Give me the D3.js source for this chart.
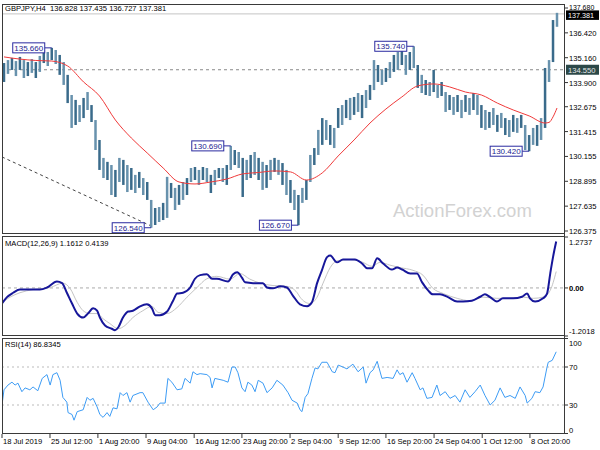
<!DOCTYPE html>
<html><head><meta charset="utf-8">
<script src="https://cdn.jsdelivr.net/npm/d3@7"></script>
<style>
body{margin:0;background:#fff}
text{font-family:"Liberation Sans",Arial,sans-serif}
</style>
</head><body>
<svg id="c" width="600" height="450"></svg>
<script>
// ---------- DATA ----------
const headerText = "GBPJPY,H4  136.828 137.435 136.727 137.381";
const macdTitle = "MACD(12,26,9) 1.1612 0.4139";
const rsiTitle = "RSI(14) 86.8345";
const watermark = "ActionForex.com";

const highs = [134.89,135.04,135.15,134.99,135.20,135.04,134.94,135.09,134.94,135.25,
135.55,135.45,135.66,135.55,135.30,134.94,134.29,133.27,133.02,132.76,
133.12,133.42,132.76,132.00,130.99,130.08,129.88,129.72,129.47,130.08,
129.98,129.72,129.57,129.22,129.37,129.06,128.86,127.95,127.54,127.59,
127.80,129.12,128.81,128.56,128.71,128.86,129.06,129.57,129.62,129.47,
129.62,129.57,129.22,129.47,129.57,129.57,129.72,130.69,130.48,130.38,
130.08,129.98,130.23,130.38,130.08,129.88,129.72,129.98,130.08,129.98,
129.82,129.47,128.96,128.46,128.20,128.56,128.96,130.23,130.58,131.50,
132.10,132.00,131.75,131.60,132.61,132.76,133.02,133.12,133.17,133.37,
133.27,133.52,133.78,135.04,134.79,134.54,134.64,134.94,135.30,135.45,
135.70,135.30,135.45,135.74,134.79,134.29,134.03,133.93,134.54,133.78,
133.93,133.42,133.27,133.17,133.27,133.02,133.27,133.12,133.37,133.27,
132.76,132.51,132.41,132.61,132.26,132.36,132.10,132.00,132.26,132.10,
132.26,131.75,131.24,131.60,131.75,132.10,134.64,135.04,137.07,137.435];

const lows = [133.93,134.34,134.54,134.23,134.54,134.13,134.23,134.39,134.13,134.44,
134.89,134.74,135.04,134.84,134.29,133.78,132.86,131.60,131.75,131.90,
132.10,132.51,131.90,130.48,129.47,129.06,128.96,128.20,128.10,128.86,
128.71,128.35,128.46,128.30,128.56,128.20,127.95,126.54,126.68,126.83,
126.93,127.04,128.05,127.44,127.70,127.95,128.20,128.86,128.96,128.71,
128.96,128.86,128.30,128.71,129.06,128.86,128.71,129.47,129.72,129.57,
128.10,128.96,129.06,129.22,128.96,128.46,128.56,128.96,129.37,129.22,
128.71,128.20,127.80,127.44,126.67,127.80,127.95,128.86,129.72,130.23,
130.74,130.99,130.74,130.58,131.60,131.75,132.10,132.00,132.26,132.41,
132.10,132.61,133.02,133.52,133.93,133.78,133.93,134.13,134.44,134.54,
134.79,134.29,134.54,134.64,133.63,133.37,133.27,133.22,133.42,133.12,
133.22,132.41,132.51,132.26,132.41,132.10,132.41,132.26,132.51,132.26,
131.60,131.50,131.60,131.75,131.40,131.60,131.24,131.14,131.40,131.35,
131.60,130.48,130.42,130.74,130.69,130.99,131.60,133.93,134.94,136.727];

// moving average [barIndex, value]
const maLine = [[0,135.20],[4,135.09],[8,135.02],[12,134.99],[16,134.74],[20,133.93],[24,133.22],
[28,132.00],[32,131.09],[36,130.33],[40,129.57],[44,128.86],[48,128.76],[52,128.86],[56,129.01],
[60,129.27],[64,129.34],[68,129.42],[72,129.37],[76,128.96],[80,129.32],[84,130.18],[88,130.99],
[92,131.85],[96,132.56],[100,133.17],[104,133.73],[108,133.83],[112,133.68],[116,133.42],
[120,133.27],[124,132.86],[128,132.51],[132,132.21],[136,131.85],[137,131.88],[138,132.16],[139,132.61]];

const trendLine = [[-0.5,130.13],[37,126.63]];

const calloutIdx = [12,57,37,74,103,132];
const calloutPrice = [135.660,130.690,126.540,126.670,135.740,130.420];

const lastPrice = 137.381;
const levelPrice = 134.550;
const priceTicks = [137.680,136.420,135.160,133.900,132.675,131.415,130.155,128.895,127.635,126.375];

const macdLine = [[-0.5,-0.39],[0.75,-0.23],[2.3,-0.12],[4,-0.04],[5.8,-0.04],[9,-0.04],[10.8,0.01],
[13.3,0.16],[14.6,0.12],[15.8,-0.12],[17.1,-0.39],[18.4,-0.64],[19.9,-0.74],[21.1,-0.64],[22.4,-0.51],
[23.4,-0.57],[24.1,-0.74],[25.4,-0.94],[27.1,-1.02],[27.9,-1.06],[28.7,-0.99],[29.9,-0.74],[31.2,-0.59],
[32.4,-0.57],[34.2,-0.46],[35.9,-0.41],[37.2,-0.51],[38,-0.68],[39.2,-0.68],[41,-0.59],[42.5,-0.32],
[43.5,-0.14],[45,-0.12],[46.8,0.01],[48,0.23],[49.3,0.32],[51,0.34],[52.3,0.23],[53.5,0.23],[56.3,0.16],
[57.6,0.34],[58.6,0.39],[59.8,0.26],[60.6,0.14],[62.6,0.12],[63.9,0.12],[65.1,0.12],[66.1,0.01],
[67.6,-0.01],[69.4,0.04],[71.1,0.01],[72.6,-0.19],[74.4,-0.41],[76.2,-0.46],[77.4,-0.36],[78.7,0.12],
[79.9,0.44],[81.2,0.77],[82,0.81],[83.7,0.64],[85.2,0.71],[88.2,0.71],[90,0.61],[91.3,0.49],[92.5,0.49],
[93.8,0.74],[95.3,0.61],[97.5,0.46],[98.8,0.51],[100.1,0.46],[102.1,0.36],[103.8,0.36],[105.1,0.14],
[106.6,-0.06],[107.8,-0.16],[109.6,-0.16],[111.6,-0.23],[113.9,-0.34],[115.4,-0.34],[117.6,-0.32],
[119.7,-0.22],[120.9,-0.16],[122.2,-0.23],[123.9,-0.34],[125.4,-0.26],[128,-0.26],[130.2,-0.22],
[131.5,-0.14],[132.2,-0.26],[133.5,-0.34],[135.5,-0.26],[136.5,-0.14],[137.3,0.36],[138,0.77],[138.8,1.16]];

const signalLine = [[-0.5,-0.36],[1.5,-0.23],[4,-0.12],[7.3,-0.04],[11.6,0.01],[14.8,0.12],[16.6,-0.01],
[18.4,-0.36],[19.9,-0.57],[21.6,-0.64],[23.4,-0.64],[24.9,-0.77],[26.6,-0.89],[28.7,-1.02],[30.4,-0.94],
[32.4,-0.74],[34.9,-0.57],[37.2,-0.46],[38.7,-0.61],[41,-0.64],[43.5,-0.49],[46,-0.23],[48.5,0.01],
[51,0.23],[53.5,0.29],[56.8,0.22],[59.3,0.36],[61.8,0.22],[64.4,0.12],[67.6,0.06],[71.1,0.04],
[73.7,-0.12],[74.4,-0.23],[76.9,-0.39],[78.7,-0.23],[80.2,0.12],[82,0.51],[83.7,0.68],[87,0.71],
[90.2,0.64],[92.5,0.54],[94.5,0.64],[97,0.57],[99.5,0.51],[102.8,0.44],[105.3,0.32],[107.8,-0.01],
[110.4,-0.14],[113.9,-0.26],[117.1,-0.32],[120.4,-0.23],[123.9,-0.26],[127.2,-0.26],[130.5,-0.23],
[133,-0.26],[135.5,-0.23],[137.3,-0.06],[138.8,0.41]];
const macdTicks = [1.2737,0.00,-1.2018];
const macdTickLabels = ["1.2737","0.00","-1.2018"];

const rsiLine = [[-0.5,30],[0,46],[1,51],[2,54],[2.8,51],[3.5,53],[4.5,44],[5.3,48],[6.5,46],[7.3,49],
[8.5,45],[9.6,58],[10.8,62],[11.6,51],[12.3,62],[13.3,64],[14.1,56],[14.8,38],[15.8,33],[16.1,22],
[17.1,20],[17.6,14],[18.4,23],[19.9,25],[20.9,38],[21.6,35],[22.4,37],[23.4,28],[24.1,20],[24.9,17],
[25.9,22],[26.6,18],[27.4,27],[28.4,26],[29.2,43],[29.9,40],[30.9,43],[31.7,33],[32.4,40],[34.2,43],
[34.9,43],[36.2,33],[37.5,25],[38.5,28],[39.2,32],[40.5,32],[41.2,58],[42.2,54],[43.5,46],[44.7,47],
[45.5,58],[46.8,53],[47.5,65],[48.5,62],[49.3,63],[51,62],[51.8,59],[52.3,48],[53,58],[55.1,56],
[56.3,54],[57.3,70],[58.1,70],[58.8,64],[59.8,48],[60.6,44],[61.3,54],[62.3,51],[63.1,44],[63.9,56],
[65.1,53],[66.1,43],[67.4,48],[68.6,56],[70.1,51],[71.4,43],[72.4,35],[73.7,32],[74.4,25],[74.9,23],
[75.7,38],[76.4,42],[77.4,58],[78.2,69],[78.9,68],[79.9,75],[81.2,75],[82.5,65],[83.2,64],[84,72],
[85.2,70],[86.2,68],[87.7,73],[89,65],[90.3,70],[91,53],[92,64],[92.8,67],[93.8,76],[95,58],
[96.3,59],[97.8,58],[98.8,67],[99.5,62],[100.3,64],[101.3,54],[102.6,64],[103.3,58],[104.6,46],
[105.3,48],[106.3,37],[107.6,38],[108.8,51],[109.6,40],[110.9,44],[112.1,37],[113.4,40],[114.6,33],
[115.9,46],[117.1,38],[118.4,44],[119.7,51],[120.9,40],[122.2,30],[123.4,35],[124.7,48],[125.9,38],
[127.2,40],[128.5,37],[129.7,49],[131,40],[131.5,32],[132.7,37],[133.5,44],[134.7,43],[135.5,49],
[136.5,70],[136.8,75],[137.8,77],[138.8,86]];
const rsiTicks = [100,70,30,0];
const rsiLevels = [70,30];

const timeLabels = ["18 Jul 2019","25 Jul 12:00","1 Aug 20:00","9 Aug 04:00","16 Aug 12:00","23 Aug 20:00",
"2 Sep 04:00","9 Sep 12:00","16 Sep 20:00","24 Sep 04:00","1 Oct 12:00","8 Oct 20:00"];
const timeLabelIdx = [-0.5,11.56,23.6,35.7,47.8,59.8,71.9,84.0,96.0,108.1,120.2,132.2];

// ---------- LAYOUT ----------
const svg = d3.select("#c");
const L = 2, R = 565;
const P = {top:4, bot:234}, M = {top:236, bot:336}, Q = {top:338, bot:434};
const FS = 7.6;

const x = d3.scaleLinear().domain([0, highs.length-1]).range([4, 557]);
const y = d3.scaleLinear().domain([126.375, 137.68]).range([231, 8]);
const ym = d3.scaleLinear().domain([-1.2018, 1.2737]).range([336, 237]);
const yr = d3.scaleLinear().domain([0, 100]).range([433.5, 338.5]);

svg.append("rect").attr("width",600).attr("height",450).attr("fill","#fff");

const defs = svg.append("defs");
[["cp",P],["cm",M],["cr",Q]].forEach(([id,p])=>{
  defs.append("clipPath").attr("id",id).append("rect")
    .attr("x",L).attr("y",p.top).attr("width",R-L).attr("height",p.bot-p.top);
});

// ---- price panel ----
const gp = svg.append("g").attr("clip-path","url(#cp)");
gp.append("text").attr("x",393).attr("y",217).attr("font-size",18.5).attr("fill","#d2d2d2").text(watermark);

gp.append("line").attr("x1",L).attr("x2",R).attr("y1",y(lastPrice)).attr("y2",y(lastPrice))
  .attr("stroke","#c4c4c4").attr("stroke-width",1);
gp.append("line").attr("x1",L).attr("x2",R).attr("y1",y(levelPrice)).attr("y2",y(levelPrice))
  .attr("stroke","#8a8a8a").attr("stroke-width",1).attr("stroke-dasharray","3,3");

gp.append("path").datum(trendLine)
  .attr("d", d3.line().x(d=>x(d[0])).y(d=>y(d[1])))
  .attr("fill","none").attr("stroke","#444").attr("stroke-width",1).attr("stroke-dasharray","3,3");

gp.selectAll("line.bar").data(highs).enter().append("line").attr("class","bar")
  .attr("x1",(d,i)=>x(i)).attr("x2",(d,i)=>x(i))
  .attr("y1",d=>y(d)).attr("y2",(d,i)=>y(lows[i]))
  .attr("stroke",(d,i)=> i%2 ? "#6892ad" : "#3a6b8b").attr("stroke-width",2.5);

gp.append("path").datum(maLine)
  .attr("d", d3.line().x(d=>x(d[0])).y(d=>y(d[1])).curve(d3.curveMonotoneX))
  .attr("fill","none").attr("stroke","#f03a3a").attr("stroke-width",1);

// callouts
calloutIdx.forEach((idx,k)=>{
  const p = calloutPrice[k];
  const bx = x(idx) - 7, by = y(p);
  gp.append("line").attr("x1",bx).attr("x2",x(idx)).attr("y1",by).attr("y2",by)
    .attr("stroke","#2a2aa0").attr("stroke-width",1);
  gp.append("rect").attr("x",bx-32).attr("y",by-5).attr("width",32).attr("height",10)
    .attr("fill","#fff").attr("stroke","#2a2aa0").attr("stroke-width",1);
  gp.append("text").attr("x",bx-16).attr("y",by+3).attr("text-anchor","middle")
    .attr("font-size",8).attr("fill","#1c1c90").text(p.toFixed(3));
});

svg.append("text").attr("x",5).attr("y",11).attr("font-size",FS).attr("fill","#000")
  .style("white-space","pre").text(headerText);

// ---- MACD panel ----
const gm = svg.append("g").attr("clip-path","url(#cm)");
gm.append("line").attr("x1",L).attr("x2",R).attr("y1",ym(0)).attr("y2",ym(0))
  .attr("stroke","#aaa").attr("stroke-dasharray","3,3");
gm.append("path").datum(signalLine)
  .attr("d", d3.line().x(d=>x(d[0])).y(d=>ym(d[1])).curve(d3.curveMonotoneX))
  .attr("fill","none").attr("stroke","#c4c4c4").attr("stroke-width",1);
gm.append("path").datum(macdLine)
  .attr("d", d3.line().x(d=>x(d[0])).y(d=>ym(d[1])).curve(d3.curveMonotoneX))
  .attr("fill","none").attr("stroke","#17179a").attr("stroke-width",2);
svg.append("text").attr("x",5).attr("y",246).attr("font-size",FS).attr("fill","#000").text(macdTitle);

// ---- RSI panel ----
const gr = svg.append("g").attr("clip-path","url(#cr)");
rsiLevels.forEach(v=>{
  gr.append("line").attr("x1",L).attr("x2",R).attr("y1",yr(v)).attr("y2",yr(v))
    .attr("stroke","#bbb").attr("stroke-dasharray","2,3");
});
gr.append("path").datum(rsiLine)
  .attr("d", d3.line().x(d=>x(d[0])).y(d=>yr(d[1])))
  .attr("fill","none").attr("stroke","#3d9cf5").attr("stroke-width",1);
svg.append("text").attr("x",5).attr("y",347).attr("font-size",FS).attr("fill","#000").text(rsiTitle);

// ---- frames ----
[P,M,Q].forEach(p=>{
  svg.append("rect").attr("x",L+0.5).attr("y",p.top+0.5).attr("width",R-L-1).attr("height",p.bot-p.top-1)
    .attr("fill","none").attr("stroke","#3a3a3a").attr("stroke-width",1);
});

// ---- right axes ----
const ga = svg.append("g");
ga.append("line").attr("x1",R-0.5).attr("x2",R-0.5).attr("y1",P.top).attr("y2",Q.bot).attr("stroke","#3a3a3a");
priceTicks.forEach((v,k)=>{
  ga.append("line").attr("x1",R).attr("x2",R+3).attr("y1",y(v)).attr("y2",y(v)).attr("stroke","#333");
  ga.append("text").attr("x",569).attr("y",y(v)+(k===0?1.5:3)).attr("font-size",k===0?7:FS).attr("fill","#000").text(v.toFixed(3));
});
// level label
ga.append("rect").attr("x",566).attr("y",y(levelPrice)-5).attr("width",33).attr("height",10).attr("fill","#2c4848");
ga.append("text").attr("x",568).attr("y",y(levelPrice)+3).attr("font-size",FS).attr("fill","#e8e8e8").text(levelPrice.toFixed(3));
// last price label
ga.append("rect").attr("x",566).attr("y",y(lastPrice)-3.5).attr("width",33).attr("height",9.5).attr("fill","#000");
ga.append("text").attr("x",568).attr("y",y(lastPrice)+4).attr("font-size",7.2).attr("fill","#fff").text(lastPrice.toFixed(3));

macdTicks.forEach((v,k)=>{
  const off = k===0 ? 8 : (k===2 ? -2 : 3);
  ga.append("line").attr("x1",R).attr("x2",R+3).attr("y1",ym(v)).attr("y2",ym(v)).attr("stroke","#333");
  ga.append("text").attr("x",569).attr("y",ym(v)+off).attr("font-size",FS).attr("fill","#000")
    .attr("font-weight", v===0 ? "bold" : "normal").text(macdTickLabels[k]);
});
rsiTicks.forEach(v=>{
  const off = v===100 ? 7 : (v===0 ? -1 : 3);
  ga.append("line").attr("x1",R).attr("x2",R+3).attr("y1",yr(v)).attr("y2",yr(v)).attr("stroke","#333");
  ga.append("text").attr("x",569).attr("y",yr(v)+off).attr("font-size",FS).attr("fill","#000").text(v);
});

// ---- time axis ----
timeLabelIdx.forEach((idx,k)=>{
  const tx = x(idx);
  ga.append("line").attr("x1",tx).attr("x2",tx).attr("y1",Q.bot).attr("y2",Q.bot+4).attr("stroke","#333");
  ga.append("text").attr("x",tx+1).attr("y",444).attr("font-size",FS).attr("fill","#000").text(timeLabels[k]);
});
</script>
</body></html>
